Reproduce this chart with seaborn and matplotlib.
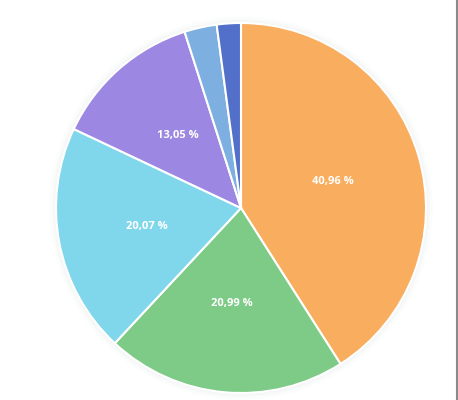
import matplotlib.pyplot as plt
import seaborn as sns
from matplotlib.lines import Line2D
from matplotlib.patches import Circle

# slice shares, clockwise from 12 o'clock
categories = ['A', 'B', 'C', 'D', 'E', 'F']
shares = [40.96, 20.99, 20.07, 13.05, 2.83, 2.10]
colors = ['#F9AD5E', '#7ECB88', '#80D7EB', '#9C87E2', '#7DAFE0', '#5270C9']


def main():
    sns.set_theme(style='white')
    plt.rcParams['font.family'] = ['Open Sans', 'DejaVu Sans']

    fig = plt.figure(figsize=(4.58, 4.0), dpi=100)
    ax = fig.add_axes([0, 0, 1, 1])

    # faint drop shadow round the pie
    for r, a in [(1.035, 0.03), (1.02, 0.04), (1.008, 0.05)]:
        ax.add_patch(Circle((0, 0), r, color='#9aa0a8', alpha=a, lw=0, zorder=0))

    def fmt(pct):
        return f'{pct:.2f} %'.replace('.', ',') if pct > 5 else ''

    wedges, texts, autotexts = ax.pie(
        shares, colors=colors, startangle=90, counterclock=False,
        autopct=fmt, pctdistance=0.52,
        wedgeprops=dict(edgecolor='white', linewidth=1.5),
        textprops=dict(color='white', fontsize=8, fontweight='bold'))

    ax.set_aspect('equal')
    R = 185.0
    ax.set_xlim(-241 / R, (458 - 241) / R)
    ax.set_ylim(-192 / R, 208 / R)
    ax.axis('off')

    fig.add_artist(Line2D([456.5 / 458, 456.5 / 458], [0, 1], color='#8a8a8a', lw=1.5))

    fig.savefig('out.png', dpi=100, facecolor='white')


if __name__ == '__main__':
    main()
